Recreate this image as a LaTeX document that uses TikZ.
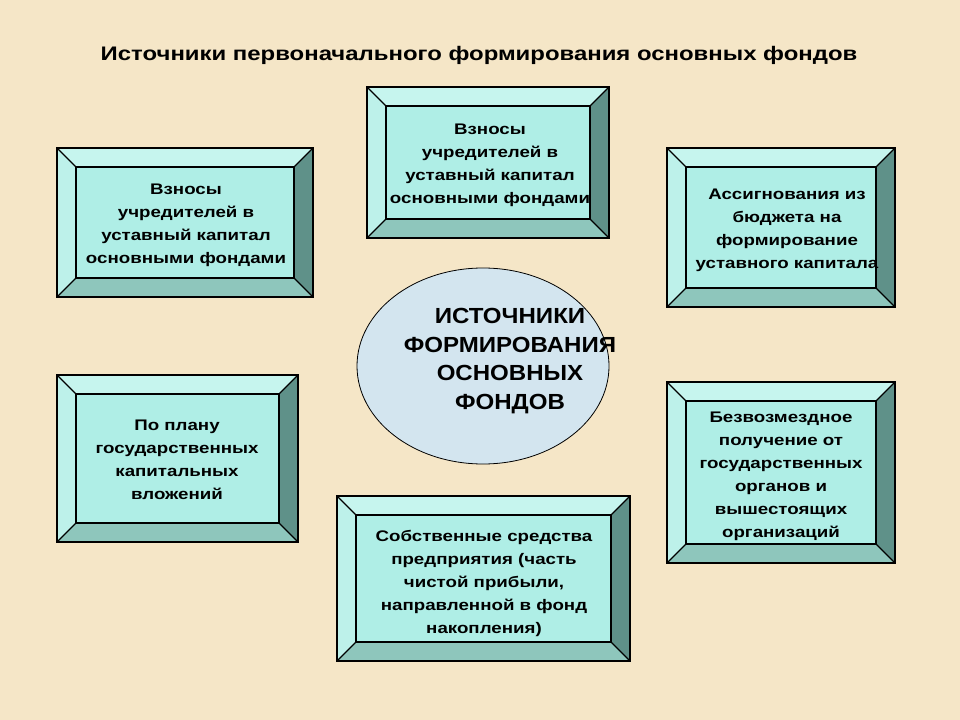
\documentclass[tikz,border=0pt]{standalone}
\usepackage{fontspec}
\setmainfont{Liberation Sans}
\newfontfamily\widebold{Liberation Sans Bold}[FakeStretch=1.22]
\newfontfamily\ellbold{Liberation Sans Bold}[FakeStretch=1.10]
\definecolor{bgc}{HTML}{F5E6C7}
\definecolor{facec}{HTML}{AFEEE6}
\definecolor{topc}{HTML}{C6F5EE}
\definecolor{leftc}{HTML}{BDF1EA}
\definecolor{rightc}{HTML}{5F9189}
\definecolor{botc}{HTML}{8EC6BC}
\definecolor{ellc}{HTML}{D3E5EF}
\newcommand\bevbox[5]{%
  \fill[topc] (#1,#2) -- (#3,#2) -- ({#3-#5},{#2+#5}) -- ({#1+#5},{#2+#5}) -- cycle;
  \fill[leftc] (#1,#2) -- ({#1+#5},{#2+#5}) -- ({#1+#5},{#4-#5}) -- (#1,#4) -- cycle;
  \fill[rightc] (#3,#2) -- ({#3-#5},{#2+#5}) -- ({#3-#5},{#4-#5}) -- (#3,#4) -- cycle;
  \fill[botc] (#1,#4) -- ({#1+#5},{#4-#5}) -- ({#3-#5},{#4-#5}) -- (#3,#4) -- cycle;
  \fill[facec] ({#1+#5},{#2+#5}) rectangle ({#3-#5},{#4-#5});
  \draw[bevline] (#1,#2) rectangle (#3,#4);
  \draw[bevline] ({#1+#5},{#2+#5}) rectangle ({#3-#5},{#4-#5});
  \draw[bevline] (#1,#2) -- ({#1+#5},{#2+#5});
  \draw[bevline] (#3,#2) -- ({#3-#5},{#2+#5});
  \draw[bevline] (#1,#4) -- ({#1+#5},{#4-#5});
  \draw[bevline] (#3,#4) -- ({#3-#5},{#4-#5});
}
\begin{document}
\begin{tikzpicture}[x=0.75pt,y=-0.75pt,
  bevline/.style={black,line width=0.9pt,line join=miter},
  boxtext/.style={align=center,font=\widebold\fontsize{11.5}{17.25}\selectfont,inner sep=0pt},
  elltext/.style={align=center,font=\ellbold\fontsize{16.4}{21.6}\selectfont,inner sep=0pt},
  titletext/.style={font=\widebold\fontsize{14.7}{17}\selectfont,inner sep=0pt}]
\fill[bgc] (0,0) rectangle (960,720);
\useasboundingbox (0,0) rectangle (960,720);
\node[titletext] (title) at (479,55) {Источники первоначального формирования основных фондов};

\bevbox{57}{148}{313}{297}{19}
\bevbox{367}{87}{609}{238}{19}
\bevbox{667}{148}{895}{307}{19}
\bevbox{57}{375}{298}{542}{19}
\bevbox{337}{496}{630}{661}{19}
\bevbox{667}{382}{895}{563}{19}

\draw[black,line width=0.6pt,fill=ellc] (483,366) ellipse [x radius=126,y radius=98];

\node[boxtext] (b1) at (186,225) {Взносы\\учредителей в\\уставный капитал\\основными фондами};
\node[boxtext] (b2) at (490,165) {Взносы\\учредителей в\\уставный капитал\\основными фондами};
\node[boxtext] (b3) at (787,230) {Ассигнования из\\бюджета на\\формирование\\уставного капитала};
\node[boxtext] (b4) at (177,460) {По плану\\государственных\\капитальных\\вложений};
\node[boxtext] (b5) at (484,583) {Собственные средства\\предприятия (часть\\чистой прибыли,\\направленной в фонд\\накопления)};
\node[boxtext] (b6) at (781,476) {Безвозмездное\\получение от\\государственных\\органов и\\вышестоящих\\организаций};
\node[elltext] (center) at (510,361) {ИСТОЧНИКИ\\ФОРМИРОВАНИЯ\\ОСНОВНЫХ\\ФОНДОВ};
\end{tikzpicture}
\end{document}
